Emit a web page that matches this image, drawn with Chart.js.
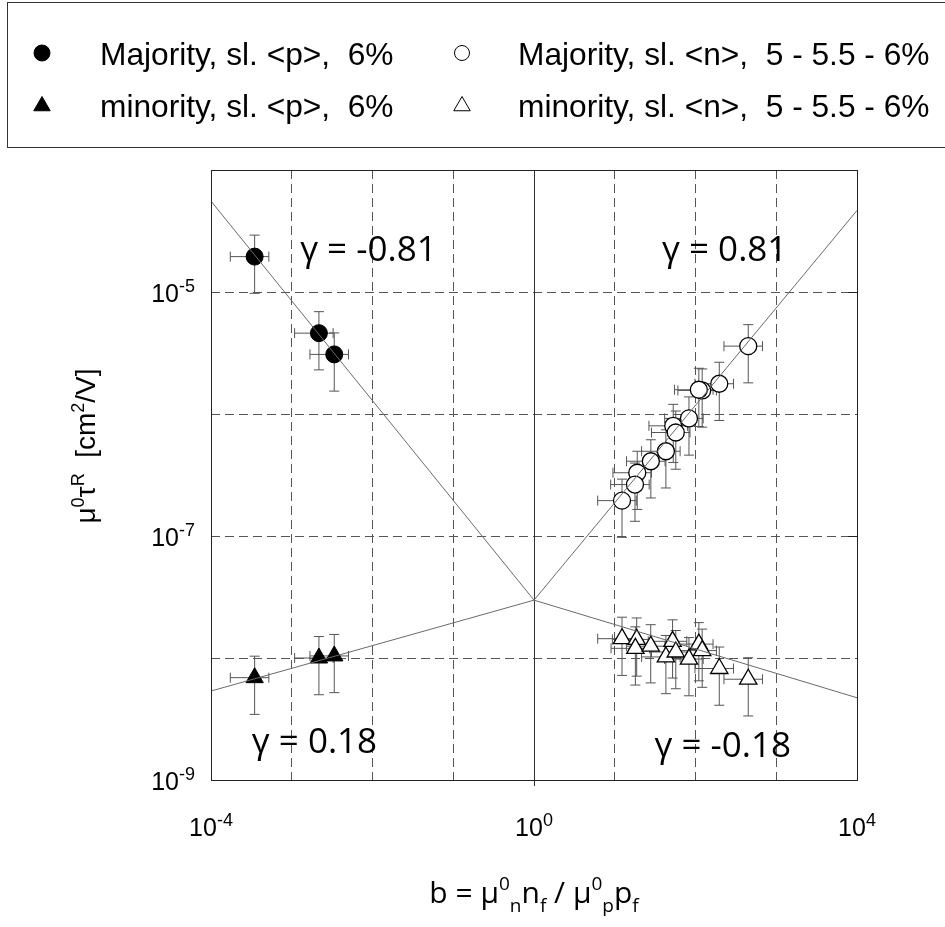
<!DOCTYPE html>
<html>
<head>
<meta charset="utf-8">
<script src="https://cdn.jsdelivr.net/npm/chart.js@4"></script>
<style>
  body { margin: 0; background: #fff; }
  canvas { display: block; }
</style>
</head>
<body>
<canvas id="chart-mobility" width="945" height="927"></canvas>
<script>
// data (b, mu0*tau_R)
const bMajP = [3.47e-4, 2.17e-3, 3.36e-3];
const muMajP = [1.95e-5, 4.6e-6, 3.08e-6];
const bMinP = [3.47e-4, 2.17e-3, 3.36e-3];
const muMinP = [6.9e-9, 1.0e-8, 1.04e-8];
const bMajN = [450, 197, 121, 110, 83, 53, 57, 43, 28, 19, 17.8, 12.3];
const muMajN = [3.6e-6, 1.77e-6, 1.56e-6, 1.58e-6, 9.2e-7, 8.0e-7, 7.05e-7, 4.95e-7, 4.1e-7, 3.3e-7, 2.64e-7, 1.95e-7];
const bMinN = [12.3, 18.7, 18.0, 27.9, 43, 52, 57, 83, 110, 121, 197, 450];
const muMinN = [1.44e-8, 1.42e-8, 1.2e-8, 1.25e-8, 1.02e-8, 1.37e-8, 1.12e-8, 9.8e-9, 1.3e-8, 1.15e-8, 8.2e-9, 6.7e-9];

// fitted power laws (end points and crossing at b = 1)
const fitB = [1e-4, 1, 1e4];
const fitMaj = [5.56e-5, 2.98e-8, 4.66e-5];
const fitMin = [5.36e-9, 2.98e-8, 4.72e-9];

// error bars are +/- 50 % on both axes
const relErrB = 0.5;
const relErrMu = 0.5;

// axes
const xGrid = [1e-4, 1e-3, 1e-2, 1e-1, 1, 1e1, 1e2, 1e3, 1e4];
const yGrid = [1e-9, 1e-8, 1e-7, 1e-6, 1e-5, 1e-4];
const xTickLabels = [[1e-4, '-4'], [1, '0'], [1e4, '4']];
const yTickLabels = [[1e-9, '-9'], [1e-7, '-7'], [1e-5, '-5']];

// slope annotations: [text, b, mu]
const gammaNotes = [
  ['γ = -0.81', 1.27e-3, 1.8e-5],
  ['γ = 0.81', 38.5, 1.8e-5],
  ['γ = 0.18', 3.2e-4, 1.66e-9],
  ['γ = -0.18', 31, 1.54e-9]
];

const legendItems = [
  ['Majority, sl. <p>,  6%', 'circle', true],
  ['minority, sl. <p>,  6%', 'triangle', true],
  ['Majority, sl. <n>,  5 - 5.5 - 6%', 'circle', false],
  ['minority, sl. <n>,  5 - 5.5 - 6%', 'triangle', false]
];

const zip = (xs, ys) => xs.map((x, i) => ({ x: x, y: ys[i] }));
const ARIAL = '"Liberation Sans", Arial, sans-serif';
const OPEN = '"Open Sans", "Noto Sans", sans-serif';

function markerSet(label, xs, ys, shape, filled) {
  return {
    label: label,
    data: zip(xs, ys),
    pointStyle: shape,
    pointRadius: shape === 'triangle' ? 10 : 8.5,
    pointBackgroundColor: filled ? '#000' : '#fff',
    pointBorderColor: '#000',
    pointBorderWidth: filled ? 1 : 1.3,
    showLine: false,
    errorBars: true,
    order: 1
  };
}

function fitSet(label, ys) {
  return {
    label: label,
    type: 'line',
    data: zip(fitB, ys),
    borderColor: '#6a6a6a',
    borderWidth: 1,
    pointRadius: 0,
    tension: 0,
    fill: false,
    order: 0
  };
}

// text made of pieces: {t, font, dy}
function richWidth(ctx, parts) {
  let w = 0;
  parts.forEach(p => { ctx.font = p.font; w += ctx.measureText(p.t).width; });
  return w;
}
function drawRich(ctx, parts, x, y, align) {
  let cx = x;
  const w = richWidth(ctx, parts);
  if (align === 'center') cx = x - w / 2;
  if (align === 'right') cx = x - w;
  ctx.textAlign = 'left';
  ctx.textBaseline = 'alphabetic';
  parts.forEach(p => {
    ctx.font = p.font;
    ctx.fillText(p.t, cx, y + (p.dy || 0));
    cx += ctx.measureText(p.t).width;
  });
}
function powerLabel(exp) {
  return [
    { t: '10', font: '25px ' + ARIAL },
    { t: exp, font: '18px ' + ARIAL, dy: -10 }
  ];
}

function legendMarker(ctx, shape, filled, x, y) {
  ctx.save();
  ctx.fillStyle = filled ? '#000' : '#fff';
  ctx.strokeStyle = '#000';
  ctx.lineWidth = 1;
  ctx.beginPath();
  if (shape === 'circle') {
    ctx.arc(x, y, filled ? 8 : 7.5, 0, Math.PI * 2);
  } else {
    const r = 9.5;
    ctx.moveTo(x, y - r);
    ctx.lineTo(x + r * 0.866, y + r / 2);
    ctx.lineTo(x - r * 0.866, y + r / 2);
    ctx.closePath();
  }
  ctx.fill();
  ctx.stroke();
  ctx.restore();
}

const decor = {
  id: 'decor',
  beforeDatasetsDraw(chart) {
    const { ctx, chartArea: a, scales: { x, y } } = chart;
    ctx.save();
    // solid line at b = 1
    const x1 = Math.round(x.getPixelForValue(1)) + 0.5;
    ctx.strokeStyle = '#333';
    ctx.lineWidth = 1;
    ctx.beginPath();
    ctx.moveTo(x1, a.top);
    ctx.lineTo(x1, a.bottom + 6);
    ctx.stroke();
    // error bars
    ctx.strokeStyle = '#555';
    const cap = 5;
    chart.data.datasets.forEach(ds => {
      if (!ds.errorBars) return;
      ds.data.forEach(p => {
        const px = x.getPixelForValue(p.x);
        const py = y.getPixelForValue(p.y);
        const xl = x.getPixelForValue(p.x * (1 - relErrB));
        const xr = x.getPixelForValue(p.x * (1 + relErrB));
        const yt = y.getPixelForValue(p.y * (1 + relErrMu));
        const yb = y.getPixelForValue(p.y * (1 - relErrMu));
        ctx.beginPath();
        ctx.moveTo(xl, py); ctx.lineTo(xr, py);
        ctx.moveTo(xl, py - cap); ctx.lineTo(xl, py + cap);
        ctx.moveTo(xr, py - cap); ctx.lineTo(xr, py + cap);
        ctx.moveTo(px, yt); ctx.lineTo(px, yb);
        ctx.moveTo(px - cap, yt); ctx.lineTo(px + cap, yt);
        ctx.moveTo(px - cap, yb); ctx.lineTo(px + cap, yb);
        ctx.stroke();
      });
    });
    ctx.restore();
  },
  afterDraw(chart) {
    const { ctx, chartArea: a, scales: { x, y } } = chart;
    ctx.save();
    // plot frame
    ctx.strokeStyle = '#222';
    ctx.lineWidth = 1;
    ctx.strokeRect(Math.round(a.left) + 0.5, Math.round(a.top) + 0.5,
      Math.round(a.right - a.left), Math.round(a.bottom - a.top));
    // inner ticks on the right at labelled decades
    yTickLabels.forEach(([v]) => {
      const py = Math.round(y.getPixelForValue(v)) + 0.5;
      ctx.beginPath();
      ctx.moveTo(a.right - 9, py); ctx.lineTo(a.right, py);
      ctx.stroke();
    });

    ctx.fillStyle = '#000';
    // tick labels
    xTickLabels.forEach(([v, e]) => {
      drawRich(ctx, powerLabel(e), x.getPixelForValue(v), 836, 'center');
    });
    yTickLabels.forEach(([v, e]) => {
      drawRich(ctx, powerLabel(e), a.left - 16, y.getPixelForValue(v) + 10, 'right');
    });

    // axis titles
    const sub = '19px ' + OPEN;
    drawRich(ctx, [
      { t: 'b = μ', font: '30px ' + OPEN },
      { t: '0', font: sub, dy: -13 },
      { t: 'n', font: sub, dy: 9 },
      { t: 'n', font: '30px ' + OPEN },
      { t: 'f', font: sub, dy: 9 },
      { t: ' / μ', font: '30px ' + OPEN },
      { t: '0', font: sub, dy: -13 },
      { t: 'p', font: sub, dy: 9 },
      { t: 'p', font: '30px ' + OPEN },
      { t: 'f', font: sub, dy: 9 }
    ], (a.left + a.right) / 2, 903, 'center');

    ctx.save();
    ctx.translate(95, 446);
    ctx.rotate(-Math.PI / 2);
    const ys = '18px ' + ARIAL;
    drawRich(ctx, [
      { t: 'μ', font: '28px ' + ARIAL },
      { t: '0', font: ys, dy: -11 },
      { t: 'τ', font: '28px ' + ARIAL },
      { t: 'R', font: ys, dy: -11 },
      { t: '  [cm', font: '28px ' + ARIAL },
      { t: '2', font: ys, dy: -11 },
      { t: '/V]', font: '28px ' + ARIAL }
    ], 0, 0, 'center');
    ctx.restore();

    // slope annotations
    ctx.font = '35px ' + OPEN;
    ctx.textAlign = 'left';
    ctx.textBaseline = 'alphabetic';
    gammaNotes.forEach(([t, bv, mv]) => {
      ctx.fillText(t, x.getPixelForValue(bv), y.getPixelForValue(mv));
    });

    // legend box
    ctx.strokeStyle = '#333';
    ctx.lineWidth = 1;
    ctx.strokeRect(7.5, 2.5, 960, 145);
    const cols = [[42, 100], [462, 518]];
    const rows = [[53, 65], [105, 117]];
    legendItems.forEach(([text, shape, filled], i) => {
      const c = cols[Math.floor(i / 2)];
      const r = rows[i % 2];
      legendMarker(ctx, shape, filled, c[0], r[0] + (shape === 'triangle' ? 1 : 0));
      ctx.fillStyle = '#000';
      ctx.font = '31.7px ' + ARIAL;
      ctx.textAlign = 'left';
      ctx.fillText(text, c[1], r[1]);
    });
    ctx.restore();
  }
};

const axisCommon = {
  type: 'logarithmic',
  ticks: { display: false },
  grid: { color: '#555', lineWidth: 1, drawTicks: false },
  border: { display: false, dash: [9, 5] }
};

const config = {
  type: 'scatter',
  data: {
    datasets: [
      markerSet('Majority, sl. <p>, 6%', bMajP, muMajP, 'circle', true),
      markerSet('minority, sl. <p>, 6%', bMinP, muMinP, 'triangle', true),
      markerSet('Majority, sl. <n>, 5 - 5.5 - 6%', bMajN, muMajN, 'circle', false),
      markerSet('minority, sl. <n>, 5 - 5.5 - 6%', bMinN, muMinN, 'triangle', false),
      fitSet('fit majority', fitMaj),
      fitSet('fit minority', fitMin)
    ]
  },
  options: {
    responsive: false,
    animation: false,
    devicePixelRatio: 1,
    layout: { padding: { left: 0, right: 88, top: 170, bottom: 0 } },
    plugins: {
      legend: { display: false },
      tooltip: { enabled: false }
    },
    scales: {
      x: Object.assign({}, axisCommon, {
        min: 1e-4, max: 1e4,
        afterBuildTicks: s => { s.ticks = xGrid.map(v => ({ value: v })); },
        afterFit: s => { s.height = 147; }
      }),
      y: Object.assign({}, axisCommon, {
        min: 1e-9, max: 1e-4,
        afterBuildTicks: s => { s.ticks = yGrid.map(v => ({ value: v })); },
        afterFit: s => { s.width = 211; }
      })
    }
  },
  plugins: [decor]
};

const myChart = new Chart(document.getElementById('chart-mobility'), config);
</script>
</body>
</html>
